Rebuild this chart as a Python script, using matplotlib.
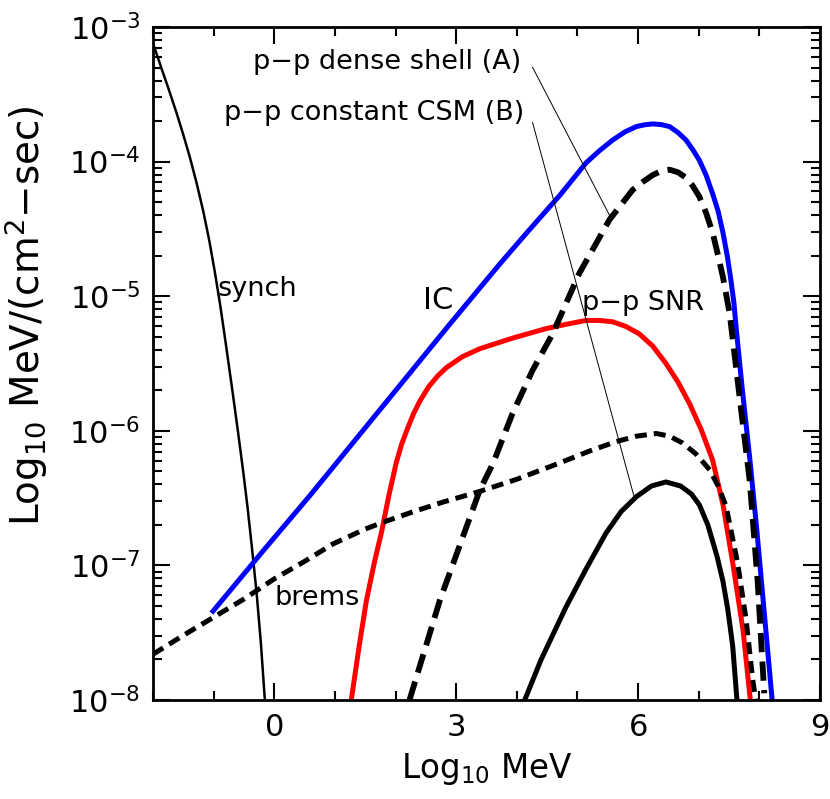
import matplotlib
import numpy as np

matplotlib.use("Agg")

from matplotlib import pyplot as plt  # noqa: E402
from matplotlib.ticker import FixedLocator, NullFormatter  # noqa: E402

# curves: x = log10(E/MeV), y = log10(flux)
synch_x = [-2.0, -1.88, -1.75, -1.61, -1.50, -1.39, -1.28, -1.17, -1.07, -0.98,
           -0.89, -0.80, -0.70, -0.60, -0.51, -0.44, -0.37, -0.29, -0.22, -0.155]
synch_y = [-3.12, -3.28, -3.45, -3.64, -3.80, -3.97, -4.16, -4.37, -4.59, -4.82,
           -5.07, -5.35, -5.67, -6.00, -6.31, -6.57, -6.86, -7.21, -7.58, -8.0]

ic_x = [-1.01, -0.18, 0.59, 2.89, 3.72, 4.20, 4.71, 5.14, 5.36, 5.58, 5.78, 5.97,
        6.10, 6.24, 6.38, 6.52, 6.66, 6.79, 6.90, 7.01, 7.12, 7.23, 7.32, 7.40,
        7.47, 7.53, 7.58, 7.62, 7.72, 7.84, 7.96, 8.08, 8.21]
ic_y = [-7.34, -6.89, -6.48, -5.21, -4.76, -4.51, -4.25, -4.01, -3.92, -3.84, -3.78, -3.74,
        -3.727, -3.72, -3.725, -3.74, -3.785, -3.84, -3.91, -3.99, -4.10, -4.24, -4.37, -4.53,
        -4.70, -4.88, -5.05, -5.25, -5.70, -6.20, -6.75, -7.35, -8.0]

shell_x = [2.23, 2.73, 3.39, 3.61, 3.93, 4.26, 4.59, 5.03, 5.53, 5.91, 6.08, 6.24, 6.38,
           6.52, 6.66, 6.79, 6.90, 7.01, 7.12, 7.23, 7.32, 7.40, 7.51, 7.60, 7.70, 7.84,
           7.97, 8.08]
shell_y = [-8.0, -7.26, -6.44, -6.24, -5.87, -5.55, -5.28, -4.83, -4.43, -4.21, -4.15, -4.10, -4.07,
           -4.06, -4.08, -4.12, -4.18, -4.26, -4.38, -4.53, -4.70, -4.86, -5.13, -5.47, -5.85, -6.37,
           -7.11, -7.95]

snr_x = [1.27, 1.40, 1.52, 1.65, 1.77, 1.89, 2.01, 2.10, 2.20, 2.30, 2.40, 2.55, 2.70,
         2.84, 3.10, 3.39, 3.94, 4.49, 4.80, 5.14, 5.36, 5.58, 5.80, 6.02, 6.24, 6.46,
         6.66, 6.85, 7.04, 7.23, 7.40, 7.56, 7.73, 7.85]
snr_y = [-8.0, -7.60, -7.26, -6.98, -6.75, -6.48, -6.24, -6.10, -5.98, -5.87, -5.78, -5.67, -5.59,
         -5.53, -5.45, -5.39, -5.31, -5.24, -5.21, -5.18, -5.18, -5.19, -5.225, -5.28, -5.37, -5.50,
         -5.64, -5.80, -5.99, -6.22, -6.55, -6.98, -7.48, -8.0]

brems_x = [-2.0, -1.5, -1.0, -0.5, 0.0, 0.5, 0.97, 1.5, 1.79, 2.3, 2.78, 3.39, 4.0,
           4.70, 5.20, 5.64, 5.97, 6.30, 6.52, 6.73, 6.95, 7.18, 7.32, 7.45, 7.64,
           7.78, 7.89, 7.94]
brems_y = [-7.66, -7.52, -7.385, -7.25, -7.10, -6.97, -6.84, -6.73, -6.68, -6.60, -6.53, -6.45, -6.36,
           -6.24, -6.15, -6.08, -6.04, -6.02, -6.04, -6.09, -6.17, -6.29, -6.41, -6.56, -6.98,
           -7.40, -7.85, -8.0]

csm_x = [4.13, 4.40, 4.81, 5.15, 5.47, 5.72, 5.97, 6.22, 6.46, 6.70, 6.88, 7.01,
         7.15, 7.30, 7.40, 7.48, 7.56, 7.63]
csm_y = [-8.0, -7.70, -7.31, -7.02, -6.76, -6.60, -6.49, -6.41, -6.38, -6.41, -6.47, -6.55,
         -6.70, -6.93, -7.12, -7.33, -7.60, -8.0]

# annotation anchors (x, log10 y)
shell_label = (4.08, -3.26)
shell_leader = [(4.26, -3.30), (5.53, -4.40)]
csm_label = (4.13, -3.64)
csm_leader = [(4.26, -3.71), (5.94, -6.50)]

y_minor = [m * 10.0 ** e for e in range(-8, -3) for m in range(2, 10)]

plt.rcParams["font.family"] = ["DejaVu Sans"]
plt.rcParams["mathtext.fontset"] = "dejavusans"

fig = plt.figure(figsize=(8.3, 7.99), dpi=100)
ax = fig.add_axes([0.1843, 0.1239, 0.8037, 0.8423])


def lin(v):
    return 10.0 ** np.asarray(v, dtype=float)


ax.plot(synch_x, lin(synch_y), color="black", lw=1.8)
ax.plot(ic_x, lin(ic_y), color="#0000ff", lw=3.6)
ax.plot(snr_x, lin(snr_y), color="#ff0000", lw=3.6)
ax.plot(shell_x, lin(shell_y), color="black", lw=4.2, dashes=(3.3, 1.6))
ax.plot(brems_x, lin(brems_y), color="black", lw=3.6, dashes=(2.4, 1.4))
ax.plot(csm_x, lin(csm_y), color="black", lw=3.6)

for leader in (shell_leader, csm_leader):
    xs = [p[0] for p in leader]
    ys = [p[1] for p in leader]
    ax.plot(xs, lin(ys), color="black", lw=0.7)

ax.text(shell_label[0], 10 ** shell_label[1], "p\u2212p dense shell (A)",
        ha="right", va="center", fontsize=19.5)
ax.text(csm_label[0], 10 ** csm_label[1], "p\u2212p constant CSM (B)",
        ha="right", va="center", fontsize=19.5)
ax.text(-0.93, 10 ** -4.95, "synch", ha="left", va="center", fontsize=19.5)
ax.text(2.71, 10 ** -5.03, "IC", ha="center", va="center", fontsize=22)
ax.text(5.08, 10 ** -5.05, "p\u2212p SNR", ha="left", va="center", fontsize=19.5)
ax.text(0.01, 10 ** -7.24, "brems", ha="left", va="center", fontsize=19.5)

ax.set_xlim(-2, 9)
ax.set_yscale("log")
ax.set_ylim(1e-8, 1e-3)
ax.xaxis.set_major_locator(FixedLocator([0, 3, 6, 9]))
ax.xaxis.set_minor_locator(FixedLocator(np.arange(-2, 10, 1)))
ax.yaxis.set_major_locator(FixedLocator([1e-8, 1e-7, 1e-6, 1e-5, 1e-4, 1e-3]))
ax.yaxis.set_minor_locator(FixedLocator(y_minor))
ax.yaxis.set_minor_formatter(NullFormatter())

ax.tick_params(which="both", direction="in", top=True, right=True, width=1.5)
ax.tick_params(which="major", length=12, labelsize=22, pad=9)
ax.tick_params(which="minor", length=6.5)
for spine in ax.spines.values():
    spine.set_linewidth(2.0)

ax.set_xlabel("Log$_{10}$ MeV", fontsize=23.5, labelpad=7)
ax.set_ylabel("Log$_{10}$ MeV/(cm$^{2}$\u2212sec)", fontsize=28)
ax.yaxis.set_label_coords(-0.155, 0.571)

fig.savefig("out.png", dpi=100)
